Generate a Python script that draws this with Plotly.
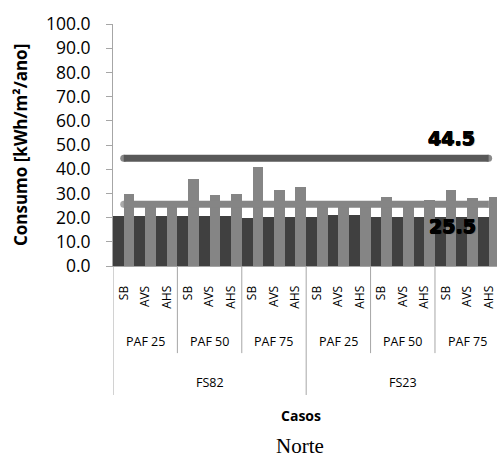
import plotly.graph_objects as go

# ---- data ----
fs_groups = ["FS82", "FS23"]
paf_groups = ["PAF 25", "PAF 50", "PAF 75"]
cases = ["SB", "AVS", "AHS"]

serie_escura = [20.5, 20.5, 20.5, 20.5, 20.5, 20.5, 19.8, 20.4, 20.4,
                20.4, 20.9, 20.9, 20.4, 20.4, 20.4, 20.4, 20.4, 20.4]
serie_clara = [29.8, 25.8, 25.8, 35.8, 29.3, 29.8, 41.0, 31.6, 32.8,
               25.8, 25.8, 25.8, 28.6, 25.8, 27.3, 31.4, 28.0, 28.6]
limite_superior = 44.5
limite_inferior = 25.5
titulo = "Norte"

# ---- derived ----
tick_text = [c for fs in fs_groups for paf in paf_groups for c in cases]
n = len(tick_text)
xs = list(range(n))
cap_sizes = [7] + [0] * (n - 2) + [7]  # round line caps at the ends

fig = go.Figure()
fig.add_trace(go.Bar(x=xs, y=serie_escura, marker=dict(color="#404040", line=dict(width=0))))
fig.add_trace(go.Bar(x=xs, y=serie_clara, marker=dict(color="#858585", line=dict(width=0))))
fig.add_trace(go.Scatter(x=xs, y=[limite_superior] * n, mode="lines+markers",
                         line=dict(color="#595959", width=7),
                         marker=dict(color="#595959", size=cap_sizes, line=dict(width=0))))
fig.add_trace(go.Scatter(x=xs, y=[limite_inferior] * n, mode="lines+markers",
                         line=dict(color="#858585", width=7),
                         marker=dict(color="#858585", size=cap_sizes, line=dict(width=0))))

axis_gray = "#A6A6A6"
fig.update_layout(
    width=497, height=459,
    margin=dict(l=113, r=0, t=24, b=193),
    paper_bgcolor="white", plot_bgcolor="white",
    showlegend=False,
    barmode="group", bargap=0, bargroupgap=0,
    font=dict(family="Open Sans", color="black"),
)
fig.update_yaxes(range=[0, 100], dtick=10, tickformat=".1f",
                 ticks="outside", ticklen=6, tickcolor=axis_gray,
                 showline=True, linecolor=axis_gray, linewidth=1,
                 showgrid=False, zeroline=False,
                 tickfont=dict(family="Open Sans", size=17.5, color="black"),
                 ticklabelstandoff=12)
fig.update_xaxes(range=[-0.5, 17.39], tickvals=xs, ticktext=tick_text, tickangle=-90,
                 ticks="", showline=True, linecolor=axis_gray, linewidth=1,
                 showgrid=False, zeroline=False,
                 tickfont=dict(family="Open Sans", size=12, color="black"),
                 ticklabelstandoff=14)

# group dividers and labels
npaf = len(cases)
nfs = len(paf_groups) * npaf
shapes = []
annotations = []
for k in range(len(fs_groups) * len(paf_groups) + 1):
    xb = k * npaf - 0.5
    long_line = (k * npaf) % nfs == 0
    shapes.append(dict(type="line", xref="x", yref="paper", x0=xb, x1=xb,
                       y0=0, y1=-0.533 if long_line else -0.36,
                       line=dict(color=axis_gray, width=1)))
for i, fs in enumerate(fs_groups):
    for j, paf in enumerate(paf_groups):
        center = i * nfs + j * npaf + (npaf - 1) / 2
        annotations.append(dict(text=paf, xref="x", yref="paper", x=center, y=-0.314,
                                showarrow=False, xanchor="center", yanchor="middle",
                                font=dict(family="Open Sans", size=12.5, color="black")))
    annotations.append(dict(text=fs, xref="x", yref="paper", x=i * nfs + (nfs - 1) / 2,
                            y=-0.483, showarrow=False, xanchor="center", yanchor="middle",
                            font=dict(family="Open Sans", size=12.5, color="black")))

annotations.append(dict(text="Casos", xref="paper", yref="paper", x=0.49, y=-0.616,
                        showarrow=False, xanchor="center", yanchor="middle",
                        font=dict(family="Open Sans", size=14, color="black", weight="bold")))
annotations.append(dict(text=titulo, xref="paper", yref="paper", x=0.488, y=-0.745,
                        showarrow=False, xanchor="center", yanchor="middle",
                        font=dict(family="Liberation Serif", size=21, color="black")))
annotations.append(dict(text="Consumo [kWh/m²/ano]", xref="paper", yref="paper",
                        x=-0.242, y=0.5, textangle=-90, showarrow=False,
                        xanchor="center", yanchor="middle",
                        font=dict(family="Open Sans", size=17, color="black", weight="bold")))

shadow = ("0.5px 0 0 #000, -0.5px 0 0 #000, 0 0.5px 0 #000, 0 -0.5px 0 #000, "
          "1px 1px 1px rgba(0,0,0,0.4)")
annotations.append(dict(text=f"{limite_superior:.1f}", xref="x", yref="y", x=15.25,
                        y=limite_superior, yshift=20, showarrow=False,
                        xanchor="center", yanchor="middle",
                        font=dict(family="DejaVu Sans", size=19, color="black",
                                  weight="bold", shadow=shadow)))
annotations.append(dict(text=f"{limite_inferior:.1f}", xref="x", yref="y", x=15.33,
                        y=limite_inferior, yshift=-22, showarrow=False,
                        xanchor="center", yanchor="middle",
                        font=dict(family="DejaVu Sans", size=19, color="black",
                                  weight="bold", shadow=shadow)))

fig.update_layout(shapes=shapes, annotations=annotations)
fig.write_html("out.html", config={"displayModeBar": False},
               post_script="document.body.style.margin='0';document.body.style.overflow='hidden';")
